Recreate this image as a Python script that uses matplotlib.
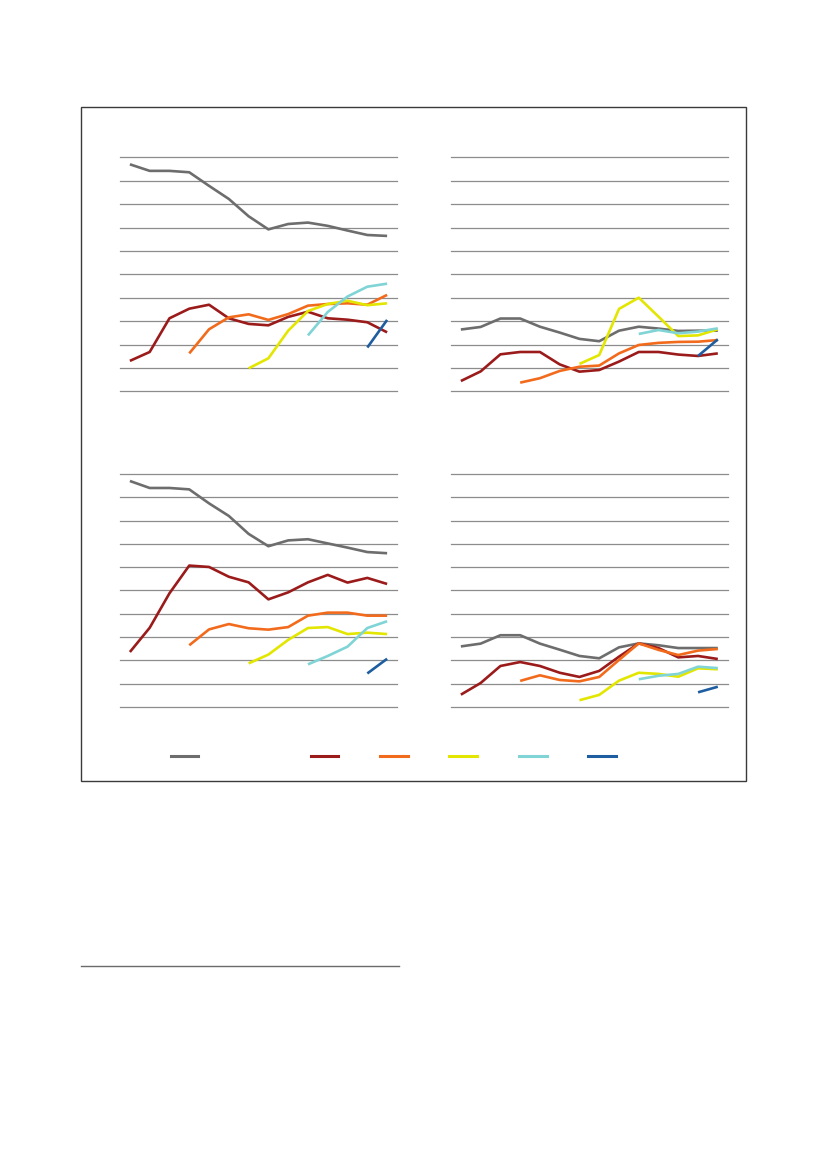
import numpy as np
import matplotlib.pyplot as plt
from matplotlib.lines import Line2D
from matplotlib.patches import Rectangle

nan = np.nan

# 14 time points on the x axis (no labels shown in the reference)
periods = np.arange(14)

# series colours: total, then five groups
colors = ["#6d6d6d", "#9b1b1b", "#f26b1d", "#e3e600", "#80d4d6", "#1e5ea0"]

# panel 1 (top left)
p1_total = [97.0, 94.2, 94.2, 93.6, 87.8, 82.2, 74.8, 69.2, 71.5, 72.1, 70.7, 68.7, 66.8, 66.4]
p1_g1 = [13.0, 16.8, 31.2, 35.3, 37.0, 31.2, 28.8, 28.2, 31.8, 34.0, 31.2, 30.6, 29.5, 25.2]
p1_g2 = [nan] * 3 + [16.2, 26.5, 31.6, 32.9, 30.5, 33.0, 36.6, 37.3, 37.6, 37.0, 41.2]
p1_g3 = [nan] * 6 + [9.8, 14.1, 25.9, 34.3, 37.3, 38.7, 36.8, 37.6]
p1_g4 = [nan] * 9 + [23.9, 33.9, 40.5, 44.7, 46.0]
p1_g5 = [nan] * 12 + [18.7, 30.5]

# panel 2 (top right)
p2_total = [26.4, 27.5, 31.1, 31.1, 27.6, 25.1, 22.4, 21.4, 25.9, 27.6, 26.8, 25.8, 25.9, 25.9]
p2_g1 = [4.4, 8.5, 15.8, 16.8, 16.8, 11.5, 8.4, 9.1, 12.7, 16.8, 16.8, 15.7, 15.1, 16.2]
p2_g2 = [nan] * 3 + [3.7, 5.6, 8.7, 10.5, 11.0, 16.2, 19.8, 20.7, 21.1, 21.2, 21.9]
p2_g3 = [nan] * 6 + [11.7, 15.5, 35.2, 40.0, 31.9, 23.6, 23.9, 26.5]
p2_g4 = [nan] * 9 + [24.5, 26.2, 24.8, 25.5, 26.9]
p2_g5 = [nan] * 12 + [15.1, 22.2]

# panel 3 (bottom left)
p3_total = [97.0, 94.0, 94.0, 93.4, 87.4, 82.0, 74.3, 69.0, 71.5, 72.0, 70.2, 68.4, 66.5, 66.0]
p3_g1 = [23.6, 34.0, 48.8, 60.7, 60.1, 55.9, 53.5, 46.2, 49.2, 53.5, 56.7, 53.4, 55.4, 52.8]
p3_g2 = [nan] * 3 + [26.5, 33.3, 35.6, 33.8, 33.2, 34.3, 39.2, 40.5, 40.5, 39.2, 39.2]
p3_g3 = [nan] * 6 + [18.7, 22.5, 28.8, 33.9, 34.3, 31.3, 31.9, 31.3]
p3_g4 = [nan] * 9 + [18.3, 21.9, 25.9, 33.9, 36.8]
p3_g5 = [nan] * 12 + [14.4, 20.7]

# panel 4 (bottom right)
p4_total = [26.0, 27.2, 30.8, 30.8, 27.2, 24.6, 21.9, 20.9, 25.6, 27.3, 26.5, 25.3, 25.3, 25.3]
p4_g1 = [5.3, 10.3, 17.6, 19.3, 17.6, 14.7, 12.9, 15.5, 21.6, 27.3, 25.3, 21.3, 21.9, 20.6]
p4_g2 = [nan] * 3 + [11.2, 13.6, 11.6, 11.0, 12.9, 20.2, 27.3, 24.5, 22.3, 24.2, 24.9]
p4_g3 = [nan] * 6 + [2.9, 5.2, 11.3, 14.7, 14.2, 13.0, 16.6, 16.2]
p4_g4 = [nan] * 9 + [11.9, 13.4, 14.2, 17.3, 16.7]
p4_g5 = [nan] * 12 + [6.3, 8.7]

panels = [
    [p1_total, p1_g1, p1_g2, p1_g3, p1_g4, p1_g5],
    [p2_total, p2_g1, p2_g2, p2_g3, p2_g4, p2_g5],
    [p3_total, p3_g1, p3_g2, p3_g3, p3_g4, p3_g5],
    [p4_total, p4_g1, p4_g2, p4_g3, p4_g4, p4_g5],
]

fig = plt.figure(figsize=(8.27, 11.69), dpi=100)

W, H = 827, 1169
# axes boxes in pixels: left, top, right, bottom
boxes = [
    (120, 157.3, 397, 391.3),
    (451, 157.3, 727.7, 391.3),
    (120, 474, 397, 707),
    (451, 474, 727.7, 707),
]

for box, series in zip(boxes, panels):
    l, t, r, b = box
    ax = fig.add_axes([l / W, 1 - b / H, (r - l) / W, (b - t) / H])
    for vals, c in zip(series, colors):
        ax.plot(periods, np.array(vals, dtype=float), color=c, lw=1.9,
                solid_capstyle="butt", zorder=3)
    ax.set_xlim(-0.5, 13.5)
    ax.set_ylim(0, 100)
    ax.set_yticks(np.arange(0, 101, 10))
    ax.yaxis.grid(True, color="#8c8c8c", lw=0.9)
    for gl in ax.get_ygridlines():
        gl.set_clip_on(False)
    ax.set_axisbelow(True)
    ax.tick_params(left=False, bottom=False, labelleft=False, labelbottom=False)
    for s in ax.spines.values():
        s.set_visible(False)

# legend: handles only, total sits apart from the groups
handles = [Line2D([], [], color=c, lw=2.2) for c in colors]
fig.legend(handles[:1], [""], loc="center left",
           bbox_to_anchor=(158 / W, 1 - 757 / H), frameon=False,
           handlelength=2.0, handletextpad=0)
fig.legend(handles[1:], [""] * 5, loc="center left",
           bbox_to_anchor=(298 / W, 1 - 757 / H), frameon=False,
           ncol=5, handlelength=2.0, handletextpad=0, columnspacing=3.0)

# outer frame
fig.patches.append(Rectangle((81 / W, 1 - 781 / H), 665 / W, 674 / H,
                             transform=fig.transFigure, fill=False,
                             edgecolor="#3a3a3a", lw=1.0))
# footnote rule
fig.add_artist(Line2D([81 / W, 399 / W], [1 - 966 / H, 1 - 966 / H],
                      transform=fig.transFigure, color="#6a6a6a", lw=1.0))

plt.savefig("out.png", dpi=100)
